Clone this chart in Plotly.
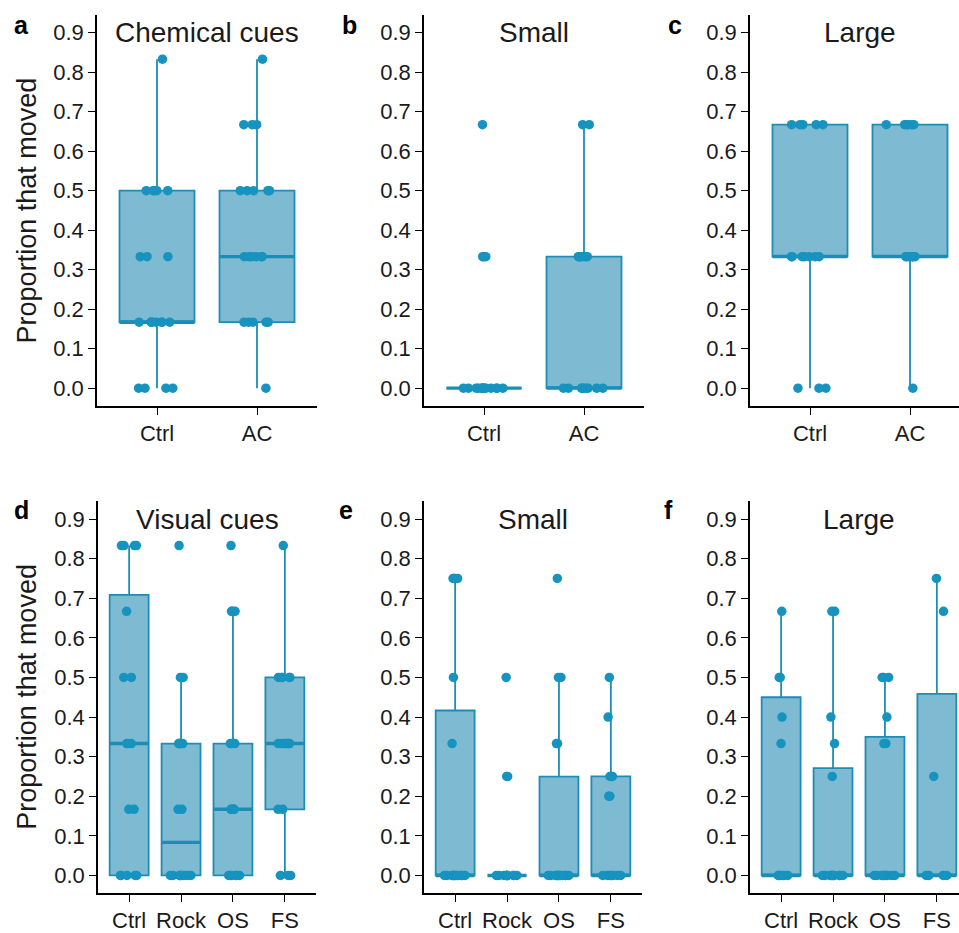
import numpy as np
import plotly.graph_objects as go

# ---------------- data ----------------
cats_two = ["Ctrl", "AC"]
cats_four = ["Ctrl", "Rock", "OS", "FS"]
y_ticks = [0.0, 0.1, 0.2, 0.3, 0.4, 0.5, 0.6, 0.7, 0.8, 0.9]

# a: Chemical cues
a_ctrl = [0, 0, 0, 0, 0.167, 0.167, 0.167, 0.167, 0.167, 0.167, 0.167, 0.167,
          0.333, 0.333, 0.333, 0.5, 0.5, 0.5, 0.5, 0.5, 0.833]
a_ac = [0, 0.167, 0.167, 0.167, 0.167, 0.167, 0.333, 0.333, 0.333, 0.333, 0.333, 0.333,
        0.5, 0.5, 0.5, 0.5, 0.5, 0.667, 0.667, 0.667, 0.833]
# b: Small (chemical)
b_ctrl = [0, 0, 0, 0, 0, 0, 0, 0, 0, 0, 0, 0, 0, 0, 0.333, 0.333, 0.333, 0.667]
b_ac = [0, 0, 0, 0, 0, 0, 0, 0, 0, 0.333, 0.333, 0.333, 0.333, 0.333, 0.333, 0.667, 0.667]
# c: Large (chemical)
c_ctrl = [0, 0, 0, 0.333, 0.333, 0.333, 0.333, 0.333, 0.333, 0.333,
          0.667, 0.667, 0.667, 0.667, 0.667]
c_ac = [0, 0.333, 0.333, 0.333, 0.333, 0.333, 0.333, 0.333,
        0.667, 0.667, 0.667, 0.667, 0.667, 0.667]
# d: Visual cues
d_ctrl = [0, 0, 0, 0, 0, 0.167, 0.167, 0.333, 0.333, 0.5, 0.5, 0.667,
          0.833, 0.833, 0.833, 0.833]
d_rock = [0, 0, 0, 0, 0, 0, 0, 0, 0, 0.167, 0.167, 0.333, 0.333, 0.333, 0.333,
          0.5, 0.5, 0.833]
d_os = [0, 0, 0, 0, 0, 0, 0.167, 0.167, 0.167, 0.167, 0.167, 0.333, 0.333, 0.333,
        0.667, 0.667, 0.667, 0.833]
d_fs = [0, 0, 0, 0.167, 0.167, 0.333, 0.333, 0.333, 0.333, 0.333, 0.333,
        0.5, 0.5, 0.5, 0.5, 0.5, 0.833]
# e: Small (visual)
e_ctrl = [0, 0, 0, 0, 0, 0, 0, 0, 0, 0, 0, 0, 0, 0.333, 0.5, 0.75, 0.75, 0.75, 0.75]
e_rock = [0, 0, 0, 0, 0, 0, 0, 0, 0, 0, 0, 0.25, 0.25, 0.5]
e_os = [0, 0, 0, 0, 0, 0, 0, 0, 0, 0, 0, 0, 0, 0.333, 0.333, 0.5, 0.5, 0.75]
e_fs = [0, 0, 0, 0, 0, 0, 0, 0, 0.2, 0.2, 0.25, 0.25, 0.25, 0.4, 0.5]
# f: Large (visual)
f_ctrl = [0, 0, 0, 0, 0, 0, 0.333, 0.4, 0.5, 0.5, 0.667]
f_rock = [0, 0, 0, 0, 0, 0, 0, 0, 0, 0, 0, 0.25, 0.333, 0.4, 0.667, 0.667]
f_os = [0, 0, 0, 0, 0, 0, 0, 0, 0, 0, 0.333, 0.333, 0.4, 0.5, 0.5, 0.5]
f_fs = [0, 0, 0, 0, 0.25, 0.667, 0.75]

panels = [
    dict(letter="a", title="Chemical cues", cats=cats_two, groups=[a_ctrl, a_ac]),
    dict(letter="b", title="Small", cats=cats_two, groups=[b_ctrl, b_ac]),
    dict(letter="c", title="Large", cats=cats_two, groups=[c_ctrl, c_ac]),
    dict(letter="d", title="Visual cues", cats=cats_four, groups=[d_ctrl, d_rock, d_os, d_fs]),
    dict(letter="e", title="Small", cats=cats_four, groups=[e_ctrl, e_rock, e_os, e_fs]),
    dict(letter="f", title="Large", cats=cats_four, groups=[f_ctrl, f_rock, f_os, f_fs]),
]

# ---------------- styling / layout ----------------
W, H = 959, 933
FONT = "Liberation Sans, Arial, sans-serif"
DOT = "#1693BF"
FILL = "#7EBBD3"
EDGE = "#1C8DB5"
TXT = "#1a1a1a"

# pixel geometry of each panel: (left, right_full, top, bottom)
geo = [
    (97, 317, 15, 409), (424, 644, 15, 409), (750, 970, 15, 409),
    (98, 316, 505, 900), (424, 642, 505, 900), (750, 968, 505, 900),
]
letter_pos = [(12, 25), (340, 25), (666, 25), (12, 514), (337, 514), (662, 514)]


def ggstats(v):
    v = np.asarray(v, dtype=float)
    q1, med, q3 = np.percentile(v, [25, 50, 75])
    iqr = q3 - q1
    lo = v[v >= q1 - 1.5 * iqr].min()
    hi = v[v <= q3 + 1.5 * iqr].max()
    return q1, med, q3, lo, hi


fig = go.Figure()
annotations = []

for i, p in enumerate(panels):
    k = i + 1
    xa = "x" if k == 1 else f"x{k}"
    ya = "y" if k == 1 else f"y{k}"
    left, right_full, top, bottom = geo[i]
    ncat = len(p["cats"])
    unit = (right_full - left) / (ncat + 0.2)
    right = min(right_full, W)
    xr = [-0.6, -0.6 + (right - left) / unit]

    for cat, vals in zip(p["cats"], p["groups"]):
        q1, med, q3, lo, hi = ggstats(vals)
        fig.add_trace(go.Box(
            x=[cat], q1=[q1], median=[med], q3=[q3], lowerfence=[lo], upperfence=[hi],
            boxpoints=False, width=0.75, whiskerwidth=0,
            fillcolor=FILL, line=dict(color=EDGE, width=1.8),
            xaxis=xa, yaxis=ya, showlegend=False, hoverinfo="skip"))
        fig.add_trace(go.Box(
            x=[cat], q1=[med], median=[med], q3=[med], lowerfence=[med], upperfence=[med],
            boxpoints=False, width=0.75, whiskerwidth=0,
            fillcolor="rgba(0,0,0,0)", line=dict(color=EDGE, width=3.4),
            xaxis=xa, yaxis=ya, showlegend=False, hoverinfo="skip"))
        fig.add_trace(go.Box(
            x=[cat] * len(vals), y=vals, boxpoints="all", jitter=0.65, pointpos=0,
            width=0.75, fillcolor="rgba(0,0,0,0)", line=dict(width=0, color="rgba(0,0,0,0)"),
            marker=dict(color=DOT, size=9.5, opacity=1),
            xaxis=xa, yaxis=ya, showlegend=False, hoverinfo="skip"))

    xdom = [left / W, right / W]
    ydom = [1 - bottom / H, 1 - top / H]
    axis_common = dict(showline=True, linecolor="black", linewidth=1.6, ticks="outside",
                       ticklen=7, tickwidth=1.4, tickcolor="black", showgrid=False,
                       zeroline=False, tickfont=dict(family=FONT, size=22, color=TXT))
    fig.update_layout(**{
        ("xaxis" if k == 1 else f"xaxis{k}"): dict(
            domain=xdom, anchor=ya, type="category", categoryorder="array",
            categoryarray=p["cats"], range=xr, **axis_common),
        ("yaxis" if k == 1 else f"yaxis{k}"): dict(
            domain=ydom, anchor=xa, range=[-0.045, 0.945], tickvals=y_ticks,
            tickformat=".1f", **axis_common),
    })

    cx = (left + right_full) / 2
    annotations.append(dict(text=p["title"], x=cx / W, xref="paper", y=0.9, yref=ya,
                            xanchor="center", yanchor="middle", showarrow=False,
                            font=dict(family=FONT, size=28, color=TXT)))
    lx, ly = letter_pos[i]
    annotations.append(dict(text=f"<b>{p['letter']}</b>", x=lx / W, xref="paper",
                            y=1 - ly / H, yref="paper", xanchor="left", yanchor="middle",
                            showarrow=False, font=dict(family=FONT, size=25, color="black")))

for yc in (212, 702):
    annotations.append(dict(text="Proportion that moved", x=27 / W, xref="paper",
                            y=1 - yc / H, yref="paper", xanchor="center", yanchor="middle",
                            textangle=-90, showarrow=False,
                            font=dict(family=FONT, size=27, color=TXT)))

fig.update_layout(width=W, height=H, margin=dict(l=0, r=0, t=0, b=0),
                  paper_bgcolor="white", plot_bgcolor="white", boxmode="overlay",
                  annotations=annotations, showlegend=False)

fig.write_html("out.html")
